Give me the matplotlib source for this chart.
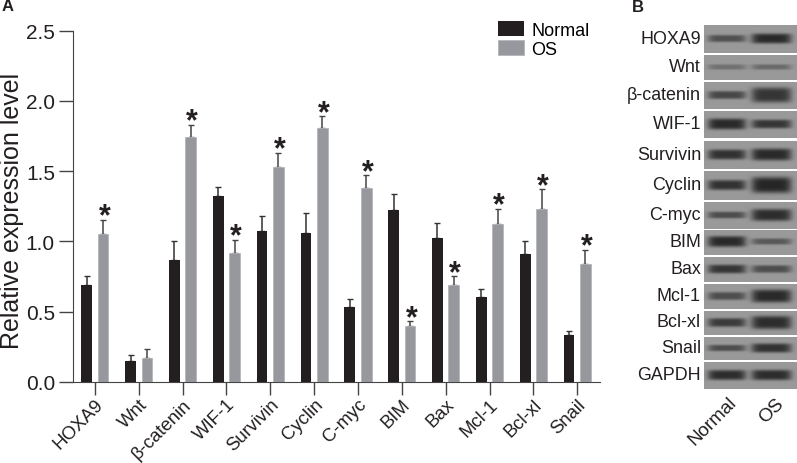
import numpy as np
import matplotlib
matplotlib.use("Agg")
import matplotlib.pyplot as plt
from matplotlib.transforms import ScaledTranslation

plt.rcParams["font.family"] = ["Liberation Sans", "DejaVu Sans"]

W, H = 797, 464

genes = ["HOXA9", "Wnt", "β-catenin", "WIF-1", "Survivin", "Cyclin",
         "C-myc", "BIM", "Bax", "Mcl-1", "Bcl-xl", "Snail"]
normal = [0.69, 0.15, 0.87, 1.32, 1.07, 1.06, 0.53, 1.22, 1.02, 0.60, 0.91, 0.33]
os_vals = [1.05, 0.17, 1.74, 0.92, 1.53, 1.81, 1.38, 0.40, 0.69, 1.12, 1.23, 0.84]
normal_top = [0.75, 0.19, 1.00, 1.39, 1.18, 1.20, 0.59, 1.34, 1.13, 0.66, 1.00, 0.36]
os_top = [1.15, 0.23, 1.83, 1.01, 1.63, 1.89, 1.47, 0.43, 0.75, 1.23, 1.37, 0.94]
signif = [True, False, True, True, True, True, True, True, True, True, True, True]

# western blot: label, panel top/bottom (px), band strength and half height for each lane
blot_labels = genes + ["GAPDH"]
blot_top = [26, 56, 83, 112, 142, 172, 203, 231, 258, 285, 312, 338, 363]
blot_bot = [54, 81, 110, 139, 170, 201, 230, 256, 283, 310, 336, 361, 390]
blot_normal = [0.62, 0.35, 0.70, 0.95, 0.88, 0.88, 0.65, 0.95, 0.85, 0.65, 0.80, 0.65, 0.92]
blot_os = [0.95, 0.40, 0.85, 0.85, 0.95, 0.98, 0.92, 0.55, 0.65, 0.95, 0.92, 0.88, 0.92]
blot_normal_h = [2.6, 1.7, 3.0, 4.5, 4.0, 4.0, 2.4, 4.2, 3.4, 3.0, 3.4, 2.2, 4.0]
blot_os_h = [4.0, 1.7, 6.5, 3.4, 5.0, 7.0, 5.0, 2.0, 2.8, 5.5, 5.6, 3.6, 4.2]

BLACK = "#231f20"
GREY = "#96989d"
TEXT = "#231f20"

fig = plt.figure(figsize=(W / 100, H / 100), dpi=100)


def px_axes(left, top, right, bottom):
    return fig.add_axes([left / W, 1 - bottom / H, (right - left) / W, (bottom - top) / H])


# panel A
ax = px_axes(73, 31.7, 600, 382.7)
x = np.arange(len(genes))
off = 0.187
bw = 0.245
ax.bar(x - off, normal, bw, color=BLACK, label="Normal", zorder=3)
ax.bar(x + off, os_vals, bw, color=GREY, edgecolor="#b4b6ba", linewidth=0.6, label="OS", zorder=3)
ax.errorbar(x - off, normal, yerr=[np.zeros(12), np.array(normal_top) - np.array(normal)],
            fmt="none", ecolor="#333333", elinewidth=1.1, capsize=2.2, capthick=1, zorder=2)
ax.errorbar(x + off, os_vals, yerr=[np.zeros(12), np.array(os_top) - np.array(os_vals)],
            fmt="none", ecolor="#444444", elinewidth=1.1, capsize=2.2, capthick=1, zorder=2)
for i, t in enumerate(os_top):
    if signif[i]:
        ax.text(i + off + 0.03, t + 0.05, "*", fontsize=22, ha="center", va="center_baseline",
                color=TEXT, fontweight="bold")

ax.set_xlim(-0.5, 11.52)
ax.set_ylim(0, 2.5)
ax.set_yticks([0, 0.5, 1.0, 1.5, 2.0, 2.5])
ax.set_yticklabels(["0.0", "0.5", "1.0", "1.5", "2.0", "2.5"], fontsize=15, color=TEXT)
ax.set_xticks(x)
ax.set_xticklabels(genes, rotation=45, ha="right", rotation_mode="anchor", fontsize=13.3, color=TEXT)
shift = ScaledTranslation(6 / 100, 0, fig.dpi_scale_trans)
for lab in ax.get_xticklabels():
    lab.set_transform(lab.get_transform() + shift)
ax.tick_params(axis="y", length=10, width=1, color="#444444", pad=3)
ax.tick_params(axis="x", length=9, width=1, color="#444444", pad=1)
ax.set_ylabel("Relative expression level", fontsize=18, color=TEXT)
ax.yaxis.set_label_coords(-49 / 527, 0.49)
ax.spines[["top", "right"]].set_visible(False)
ax.spines[["left", "bottom"]].set_color("#444444")
ax.patch.set_alpha(0)
ax.legend(loc="upper left", bbox_to_anchor=(0.806, 1.027), frameon=False, fontsize=13,
          handlelength=1.45, handleheight=0.85, labelspacing=0.1, handletextpad=0.4, borderpad=0,
          borderaxespad=0)

# panel B
for lab, top, bot, a, b, ah, bh in zip(blot_labels, blot_top, blot_bot, blot_normal, blot_os,
                                       blot_normal_h, blot_os_h):
    bx = px_axes(704, top, 797, bot)
    xs = np.arange(704, 797) + 0.5
    ys = np.arange(top, bot, 0.5) + 0.25
    X, Y = np.meshgrid(xs, ys)
    mid = (top + bot) / 2 - 0.5
    # soft bands with rounded ends on a mid grey membrane
    lane_a = np.exp(-((X - 727) / 19) ** 6 - ((Y - mid) / (ah + 1)) ** 4)
    lane_b = np.exp(-((X - 771.5) / 20) ** 6 - ((Y - mid) / (bh + 1)) ** 4)
    img = 0.60 - 0.46 * (a * lane_a + b * lane_b)
    bx.imshow(img, cmap="gray", vmin=0, vmax=1, aspect="auto", interpolation="bilinear")
    bx.axis("off")
    fig.text(701 / W, 1 - ((top + bot) / 2 - 1) / H, lab, ha="right", va="center",
             fontsize=12.9, color=TEXT)

fig.text(728 / W, 1 - 394 / H, "Normal", rotation=45, ha="right", va="top", rotation_mode="anchor",
         fontsize=13.6, color=TEXT)
fig.text(775 / W, 1 - 396 / H, "OS", rotation=45, ha="right", va="top", rotation_mode="anchor",
         fontsize=13.6, color=TEXT)

fig.text(2 / W, 1 - 6.5 / H, "A", fontsize=12, fontweight="bold", va="center", color=TEXT)
fig.text(632 / W, 1 - 7 / H, "B", fontsize=12, fontweight="bold", va="center", color=TEXT)

fig.savefig("out.png", dpi=100)
